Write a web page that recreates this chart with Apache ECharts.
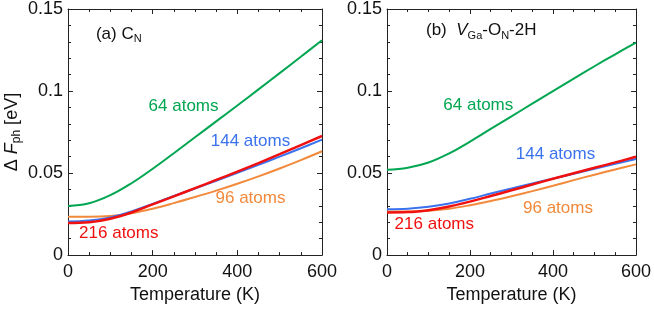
<!DOCTYPE html>
<html><head><meta charset="utf-8">
<script src="https://cdn.jsdelivr.net/npm/echarts@6/dist/echarts.min.js"></script>
<style>html,body{margin:0;padding:0;background:#fff}#c{width:654px;height:309px}</style>
</head><body><div id="c"></div>
<script>
// ---- data ----
const temps = [0, 50, 100, 150, 200, 250, 300, 350, 400, 450, 500, 550, 600];
const xTicks = [0, 200, 400, 600];
const yTicks = [0, 0.05, 0.1, 0.15];
// panel (a) C_N
const a64  = [0.0300, 0.0316, 0.0365, 0.0438, 0.0526, 0.0621, 0.0718, 0.0815, 0.0912, 0.1010, 0.1109, 0.1209, 0.1310];
const a96  = [0.0234, 0.0233, 0.0238, 0.0255, 0.0283, 0.0317, 0.0354, 0.0393, 0.0435, 0.0480, 0.0528, 0.0579, 0.0633];
const a144 = [0.0205, 0.0211, 0.0230, 0.0266, 0.0312, 0.0360, 0.0406, 0.0453, 0.0501, 0.0550, 0.0600, 0.0651, 0.0704];
const a216 = [0.0195, 0.0200, 0.0222, 0.0260, 0.0309, 0.0358, 0.0408, 0.0458, 0.0509, 0.0561, 0.0615, 0.0670, 0.0726];
// panel (b) V_Ga-O_N-2H
const b64  = [0.0520, 0.0532, 0.0564, 0.0620, 0.0692, 0.0769, 0.0846, 0.0923, 0.1000, 0.1076, 0.1151, 0.1224, 0.1295];
const b96  = [0.0265, 0.0266, 0.0271, 0.0283, 0.0304, 0.0330, 0.0359, 0.0390, 0.0423, 0.0457, 0.0490, 0.0522, 0.0553];
const b144 = [0.0280, 0.0283, 0.0294, 0.0314, 0.0343, 0.0375, 0.0406, 0.0437, 0.0466, 0.0495, 0.0526, 0.0556, 0.0586];
const b216 = [0.0260, 0.0262, 0.0274, 0.0296, 0.0326, 0.0360, 0.0395, 0.0430, 0.0465, 0.0499, 0.0532, 0.0565, 0.0599];
const seriesNames = ['64 atoms', '96 atoms', '144 atoms', '216 atoms'];

// ---- styles / positions ----
const colors = ['#00a651', '#f2893b', '#3b72ee', '#f01010'];
const FONT = 'Liberation Sans, Arial, Helvetica, sans-serif';
const labelPosA = [[273, 0.0907], [431, 0.0347], [431, 0.0692], [120, 0.0133]];
const labelPosB = [[220, 0.0912], [412, 0.0288], [406, 0.0615], [114, 0.0186]];
const titlePosA = [66, 0.1347];
const titlePosB = [94, 0.1368];

const grids = [
  {left: 68, top: 7, width: 254, height: 252},
  {left: 387, top: 7, width: 253, height: 252}
];
function xAx(gi, pos, showLabel) {
  return {
    type: 'value', gridIndex: gi, position: pos, min: xTicks[0], max: xTicks[xTicks.length-1],
    interval: xTicks[1]-xTicks[0],
    name: showLabel ? 'Temperature (K)' : '', nameLocation: 'middle', nameGap: 29,
    nameTextStyle: {fontFamily: FONT, fontSize: 18, color: '#111'},
    axisLine: {show: true, onZero: false, lineStyle: {color: '#222', width: 1}},
    axisTick: {show: true, inside: true, length: 5, lineStyle: {color: '#222'}},
    minorTick: {show: true, splitNumber: 4, length: 3, lineStyle: {color: '#222'}},
    axisLabel: {show: showLabel, fontFamily: FONT, fontSize: 18, color: '#111', margin: 8},
    splitLine: {show: false}
  };
}
function yAx(gi, pos, showLabel, withName) {
  return {
    type: 'value', gridIndex: gi, position: pos, min: yTicks[0], max: yTicks[yTicks.length-1],
    interval: yTicks[1]-yTicks[0],
    name: withName ? 'Δ {i|F}{sub|ph} [eV]' : '', nameLocation: 'middle', nameGap: 45,
    nameTextStyle: {fontFamily: FONT, fontSize: 18, color: '#111',
      rich: {i: {fontFamily: FONT, fontSize: 18, fontStyle: 'italic', color: '#111'},
             sub: {fontFamily: FONT, fontSize: 12, color: '#111', verticalAlign: 'bottom', padding: [10, 0, 0, 0]}}},
    axisLine: {show: true, onZero: false, lineStyle: {color: '#222', width: 1}},
    axisTick: {show: true, inside: true, length: 5, lineStyle: {color: '#222'}},
    minorTick: {show: true, splitNumber: 5, length: 3, lineStyle: {color: '#222'}},
    axisLabel: {show: showLabel, fontFamily: FONT, fontSize: 18, color: '#111', margin: 5,
      formatter: v => String(Math.round(v * 100) / 100)},
    splitLine: {show: false}
  };
}

const panels = [
  {data: [a64, a96, a144, a216], pos: labelPosA, xi: 0, yi: 0},
  {data: [b64, b96, b144, b216], pos: labelPosB, xi: 2, yi: 2}
];
const series = [];
panels.forEach(p => {
  p.data.forEach((vals, k) => {
    series.push({
      type: 'line', xAxisIndex: p.xi, yAxisIndex: p.yi, name: seriesNames[k] + p.xi,
      data: temps.map((t, i) => [t, vals[i]]), smooth: 0.4, showSymbol: false,
      lineStyle: {color: colors[k], width: k === 3 ? 2.5 : 2}, z: 2 + (k === 3 ? 1 : 0),
      markPoint: {
        symbol: 'circle', symbolSize: 0, silent: true, animation: false,
        data: [{coord: p.pos[k], value: seriesNames[k]}],
        label: {show: true, position: 'inside', formatter: seriesNames[k], color: colors[k],
          fontFamily: FONT, fontSize: 17}
      }
    });
  });
});
// panel titles
const titleRich = {
  base: {fontFamily: FONT, fontSize: 17, color: '#111'},
  it: {fontFamily: FONT, fontSize: 17, color: '#111', fontStyle: 'italic'},
  sub: {fontFamily: FONT, fontSize: 11, color: '#111', verticalAlign: 'bottom', padding: [10, 0, 0, 0]}
};
[[0, titlePosA, '{base|(a) C}{sub|N}'], [2, titlePosB, '{base|(b)  }{it|V}{sub|Ga}{base|-O}{sub|N}{base|-2H}']].forEach(([ai, pos, txt]) => {
  series.push({
    type: 'scatter', xAxisIndex: ai, yAxisIndex: ai, data: [], silent: true,
    markPoint: {symbol: 'circle', symbolSize: 0, silent: true, animation: false,
      data: [{coord: pos, value: 1}],
      label: {show: true, position: 'right', distance: 0, formatter: txt, rich: titleRich}}
  });
});

const chart = echarts.init(document.getElementById('c'), null, {renderer: 'canvas'});
chart.setOption({
  animation: false,
  backgroundColor: '#fff',
  grid: grids,
  xAxis: [xAx(0, 'bottom', true), xAx(0, 'top', false), xAx(1, 'bottom', true), xAx(1, 'top', false)],
  yAxis: [yAx(0, 'left', true, true), yAx(0, 'right', false, false), yAx(1, 'left', true, false), yAx(1, 'right', false, false)],
  series: series
});
</script></body></html>
